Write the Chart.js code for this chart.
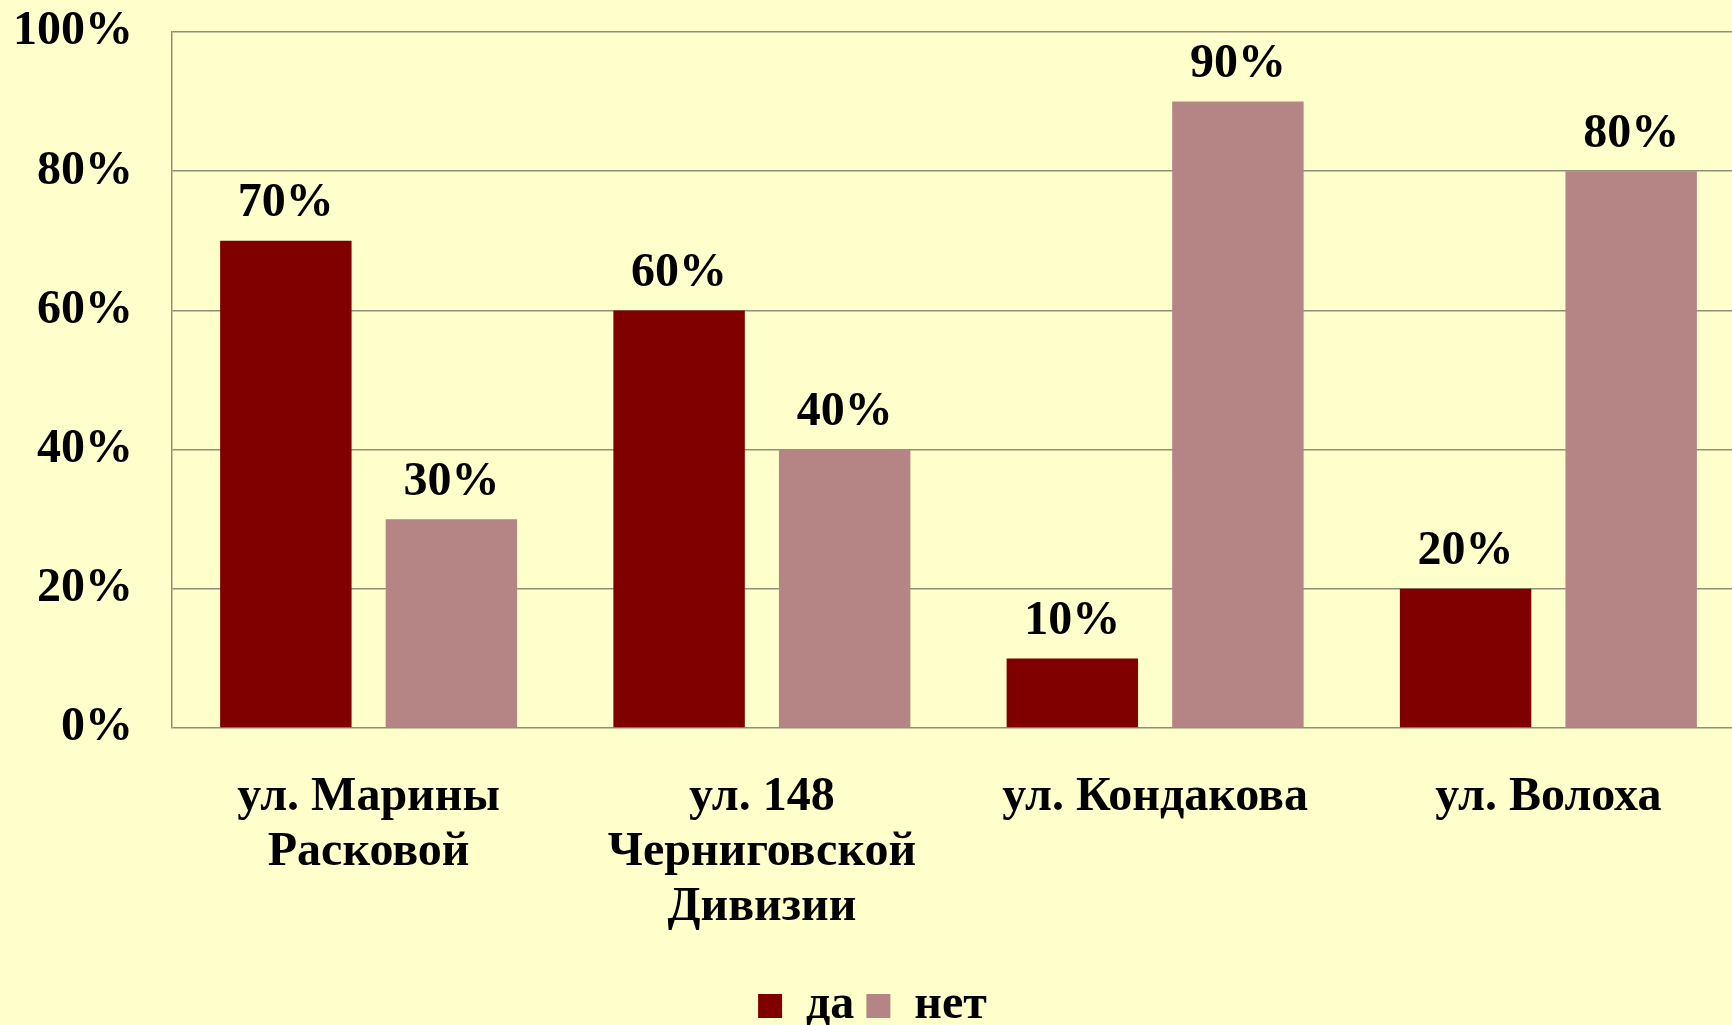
<!DOCTYPE html>
<html>
<head>
<meta charset="utf-8">
<script src="https://cdn.jsdelivr.net/npm/chart.js@4.4.0/dist/chart.umd.min.js"></script>
<style>
  html, body { margin: 0; padding: 0; background: #ffffcc; overflow: hidden; }
  #wrap { width: 1732px; height: 1025px; overflow: hidden; position: relative; }
  canvas { display: block; }
</style>
</head>
<body>
<div id="wrap"><canvas id="chart" width="1745" height="1040"></canvas></div>
<script>
// данные диаграммы
const categories = [
    ['ул. Марины', 'Расковой'],
    ['ул. 148', 'Черниговской', 'Дивизии'],
    'ул. Кондакова',
    'ул. Волоха'
];
const seriesNames = ['да', 'нет'];
const valuesYes = [70, 60, 10, 20];
const valuesNo = [30, 40, 90, 80];
const yTicks = [0, 20, 40, 60, 80, 100];

const FONT = '"Liberation Serif", "Times New Roman", serif';
const GRID = '#8f8f78';

// подписи значений над столбиками
const valueLabels = {
    id: 'valueLabels',
    afterDatasetsDraw(chart) {
        const ctx = chart.ctx;
        ctx.save();
        ctx.font = 'bold 48px ' + FONT;
        ctx.fillStyle = '#000';
        ctx.textAlign = 'center';
        ctx.textBaseline = 'middle';
        chart.data.datasets.forEach((ds, i) => {
            const meta = chart.getDatasetMeta(i);
            meta.data.forEach((bar, j) => {
                ctx.fillText(ds.data[j] + '%', bar.x, bar.y - 37);
            });
        });
        ctx.restore();
    }
};

function initializeChart() {
    const ctx = document.getElementById('chart');
    try {
        new Chart(ctx.getContext('2d'), {
            type: 'bar',
            data: {
                labels: categories,
                datasets: [{
                    label: seriesNames[0],
                    data: valuesYes,
                    backgroundColor: '#800000'
                }, {
                    label: seriesNames[1],
                    data: valuesNo,
                    backgroundColor: '#b58585'
                }]
            },
            options: {
                responsive: false,
                animation: false,
                categoryPercentage: 0.842,
                barPercentage: 0.794,
                layout: { padding: 0 },
                plugins: {
                    tooltip: { enabled: false },
                    legend: {
                        position: 'bottom',
                        labels: {
                            color: '#000',
                            font: { family: FONT, size: 48, weight: 'bold' },
                            boxWidth: 24,
                            boxHeight: 24,
                            padding: 12
                        }
                    }
                },
                scales: {
                    x: {
                        grid: { display: false, drawTicks: false },
                        border: { display: false },
                        ticks: {
                            color: '#000',
                            padding: 42,
                            maxRotation: 0,
                            autoSkip: false,
                            font: { family: FONT, size: 48, weight: 'bold', lineHeight: 1.15 }
                        },
                        afterFit(scale) { scale.height = 242; }
                    },
                    y: {
                        min: 0,
                        max: 100,
                        afterBuildTicks(scale) {
                            scale.ticks = yTicks.map(v => ({ value: v }));
                        },
                        grid: { color: GRID, lineWidth: 1.5, drawTicks: false },
                        border: { color: GRID, width: 1.5 },
                        ticks: {
                            color: '#000',
                            padding: 39,
                            font: { family: FONT, size: 48, weight: 'bold' },
                            callback: v => v + '%'
                        },
                        afterFit(scale) {
                            scale.width = 172;
                            scale.paddingTop = 32;
                        }
                    }
                }
            },
            plugins: [valueLabels]
        });
    } catch (error) {
        console.error('Chart initialization error:', error);
    }
}

initializeChart();
</script>
</body>
</html>
